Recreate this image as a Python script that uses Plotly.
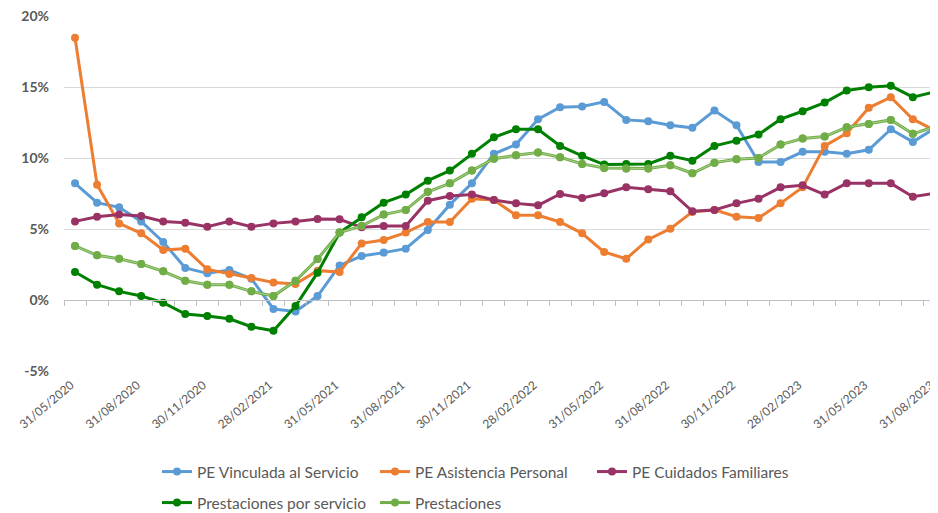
import plotly.graph_objects as go

dates = ['31/05/2020', '30/06/2020', '31/07/2020', '31/08/2020', '30/09/2020', '31/10/2020',
         '30/11/2020', '31/12/2020', '31/01/2021', '28/02/2021', '31/03/2021', '30/04/2021',
         '31/05/2021', '30/06/2021', '31/07/2021', '31/08/2021', '30/09/2021', '31/10/2021',
         '30/11/2021', '31/12/2021', '31/01/2022', '28/02/2022', '31/03/2022', '30/04/2022',
         '31/05/2022', '30/06/2022', '31/07/2022', '31/08/2022', '30/09/2022', '31/10/2022',
         '30/11/2022', '31/12/2022', '31/01/2023', '28/02/2023', '31/03/2023', '30/04/2023',
         '31/05/2023', '30/06/2023', '31/07/2023', '31/08/2023']

pe_vinculada = [8.22, 6.86, 6.53, 5.54, 4.09, 2.26, 1.88, 2.12, 1.50, -0.63, -0.80, 0.28,
                2.44, 3.10, 3.34, 3.62, 4.94, 6.72, 8.22, 10.30, 10.95, 12.74, 13.58, 13.63,
                13.96, 12.69, 12.60, 12.31, 12.13, 13.35, 12.31, 9.73, 9.73, 10.44, 10.44, 10.30,
                10.58, 12.03, 11.14, 12.10]
pe_asistencia = [18.48, 8.13, 5.40, 4.70, 3.53, 3.62, 2.16, 1.83, 1.55, 1.24, 1.13, 2.07,
                 1.97, 3.99, 4.23, 4.75, 5.50, 5.50, 7.14, 7.05, 5.97, 5.97, 5.50, 4.70,
                 3.38, 2.91, 4.27, 5.03, 6.21, 6.35, 5.87, 5.78, 6.81, 7.94, 10.86, 11.75,
                 13.54, 14.29, 12.74, 11.94]
pe_cuidados = [5.54, 5.87, 6.02, 5.92, 5.54, 5.45, 5.17, 5.54, 5.17, 5.40, 5.54, 5.71,
               5.69, 5.12, 5.22, 5.22, 7.00, 7.33, 7.43, 7.05, 6.81, 6.67, 7.47, 7.19,
               7.52, 7.94, 7.80, 7.66, 6.25, 6.35, 6.81, 7.14, 7.94, 8.08, 7.43, 8.22,
               8.22, 8.22, 7.28, 7.52]
prest_servicio = [1.97, 1.08, 0.61, 0.28, -0.19, -0.99, -1.13, -1.32, -1.88, -2.17, -0.42, 1.93,
                  4.75, 5.83, 6.86, 7.43, 8.41, 9.12, 10.30, 11.47, 12.03, 12.03, 10.86, 10.16,
                  9.54, 9.59, 9.59, 10.16, 9.82, 10.86, 11.23, 11.66, 12.74, 13.30, 13.91, 14.76,
                  14.99, 15.09, 14.29, 14.67]
prestaciones = [3.81, 3.15, 2.91, 2.54, 2.02, 1.36, 1.08, 1.08, 0.61, 0.28, 1.36, 2.89,
                4.75, 5.22, 6.02, 6.35, 7.62, 8.22, 9.12, 9.96, 10.20, 10.39, 10.06, 9.59,
                9.31, 9.26, 9.26, 9.49, 8.93, 9.68, 9.92, 10.01, 10.95, 11.38, 11.52, 12.17,
                12.41, 12.69, 11.71, 12.22]

series_names = ['PE Vinculada al Servicio', 'PE Asistencia Personal', 'PE Cuidados Familiares',
                'Prestaciones por servicio', 'Prestaciones']
series_values = [pe_vinculada, pe_asistencia, pe_cuidados, prest_servicio, prestaciones]
series_colors = ['#5B9BD5', '#ED7D31', '#993366', '#008000', '#70AD47']
series_legend = ['legend', 'legend2', 'legend3', 'legend4', 'legend5']
# legend symbol left edge and row centre, in page pixels
legend_pos = [(162, 472), (380, 472), (597, 472), (162, 503), (380, 503)]

y_ticks = [-5, 0, 5, 10, 15, 20]
y_ticktext = ['-5%', '0%', '5%', '10%', '15%', '20%']
x_label_dates = dates[::3]

FONT = 'Lato'
PAGE_OFF = 8            # default body margin of the html page
W, H = 938 - PAGE_OFF, 513 - PAGE_OFF
fig = go.Figure()
for name, vals, col, lg in zip(series_names, series_values, series_colors, series_legend):
    fig.add_trace(go.Scatter(x=dates, y=vals, name=name, mode='lines+markers',
                             line=dict(color=col, width=3),
                             marker=dict(color=col, size=8),
                             legend=lg))
    if name == 'Prestaciones':
        # compound-line look: light inner stripe, then markers on top
        fig.add_trace(go.Scatter(x=dates, y=vals, mode='lines', showlegend=False,
                                 line=dict(color='#A9D18E', width=1), hoverinfo='skip'))
        fig.add_trace(go.Scatter(x=dates, y=vals, mode='markers', showlegend=False,
                                 marker=dict(color=col, size=8), hoverinfo='skip'))

# helper trace for label axis
fig.add_trace(go.Scatter(x=dates, y=[None] * len(dates), xaxis='x2', showlegend=False,
                         hoverinfo='skip', mode='lines'))

xr = [-0.5, 39.14]
ymin, ymax = -5, 20.01
legend_font = dict(size=15.5, color='#595959', family=FONT)
legends = {}
for lg, (lx, ly) in zip(series_legend, legend_pos):
    legends[lg] = dict(orientation='h', xref='container', yref='container',
                       x=(lx - PAGE_OFF - 5) / W, xanchor='left',
                       y=1 - (ly - PAGE_OFF) / H, yanchor='middle',
                       font=legend_font, bgcolor='rgba(0,0,0,0)', itemwidth=30)

fig.update_layout(
    width=W, height=H,
    margin=dict(l=64 - PAGE_OFF, r=0, t=16 - PAGE_OFF, b=513 - 371, autoexpand=False),
    paper_bgcolor='white', plot_bgcolor='white',
    font=dict(family=FONT, color='#595959'),
    xaxis=dict(type='category', range=xr, anchor='free', position=(0 - ymin) / (ymax - ymin),
               showline=True, linecolor='#BFBFBF', linewidth=1,
               ticks='outside', ticklen=5, tickcolor='#BFBFBF', tickson='boundaries',
               tickmode='linear', tick0=0, dtick=1, automargin=False,
               showticklabels=False, showgrid=False, zeroline=False),
    xaxis2=dict(type='category', range=xr, overlaying='x', anchor='y', side='bottom',
                tickmode='array', tickvals=x_label_dates, ticktext=x_label_dates,
                tickangle=-40, tickfont=dict(size=12, color='#595959', family=FONT),
                ticklabelstandoff=4, ticklabelshift=-4, automargin=False,
                ticklabeloverflow='allow',
                showline=False, showgrid=False, ticks='', zeroline=False),
    yaxis=dict(range=[ymin, ymax], tickmode='array', tickvals=y_ticks, ticktext=y_ticktext,
               showgrid=True, gridcolor='#D9D9D9', gridwidth=1, zeroline=False,
               showline=False, ticks='', ticklabelstandoff=14, automargin=False,
               ticklabeloverflow='allow',
               tickfont=dict(size=14, color='#595959', family=FONT, weight='bold')),
    showlegend=True,
    **legends,
)

fig.write_html('out.html')
